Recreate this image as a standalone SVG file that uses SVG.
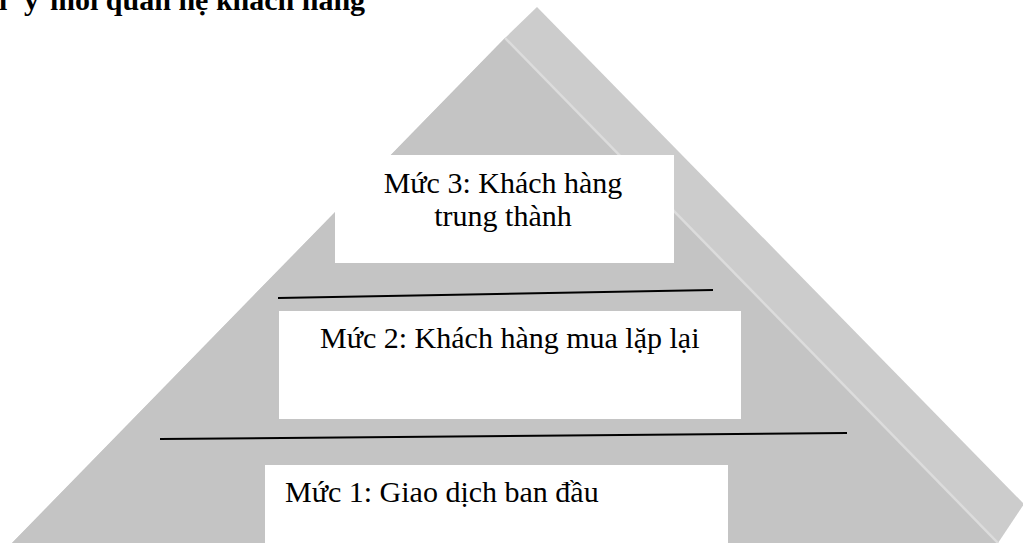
<svg xmlns="http://www.w3.org/2000/svg" width="1023" height="543" viewBox="0 0 1023 543">
  <style>
    .bevel { fill: #cccccc; }
    .face { fill: #c4c4c4; }
    .ridge { fill: none; stroke: #dcdcdc; stroke-width: 2.5; }
    .box { fill: #ffffff; }
    .label { font-family: "Liberation Serif", "Times New Roman", serif; font-size: 30px; fill: #000000; }
    .title { font-family: "Liberation Serif", "Times New Roman", serif; font-size: 30px; font-weight: bold; fill: #000000; }
    .divider { stroke: #000000; stroke-width: 2; fill: none; }
  </style>

  <rect width="1023" height="543" fill="#ffffff"/>

  <!-- heading, clipped by the top edge -->
  <text class="title" y="10"><tspan x="-1">l</tspan><tspan x="24">ý</tspan><tspan x="50">mối quan hệ khách hàng</tspan></text>

  <!-- pyramid body: right bevel behind, front face on top -->
  <g id="pyramid">
    <polygon class="bevel" points="537,7 1024,504 998,543 12,543 505,38"/>
    <polygon class="face" points="505,38 998,543 12,543"/>
    <line class="ridge" x1="505" y1="38" x2="998" y2="543"/>
  </g>

  <g id="level3">
    <rect class="box" x="335" y="155" width="339" height="108"/>
    <text class="label" x="503" y="193" text-anchor="middle">Mức 3: Khách hàng</text>
    <text class="label" x="503" y="226" text-anchor="middle">trung thành</text>
  </g>

  <g id="level2">
    <rect class="box" x="279" y="311" width="462" height="108"/>
    <text class="label" x="320" y="348">Mức 2: Khách hàng mua lặp lại</text>
  </g>

  <g id="level1">
    <rect class="box" x="265" y="465" width="463" height="80"/>
    <text class="label" x="285" y="502">Mức 1: Giao dịch ban đầu</text>
  </g>

  <g id="dividers">
    <line class="divider" x1="278" y1="298" x2="713" y2="290"/>
    <line class="divider" x1="160" y1="439" x2="847" y2="433"/>
  </g>
</svg>
